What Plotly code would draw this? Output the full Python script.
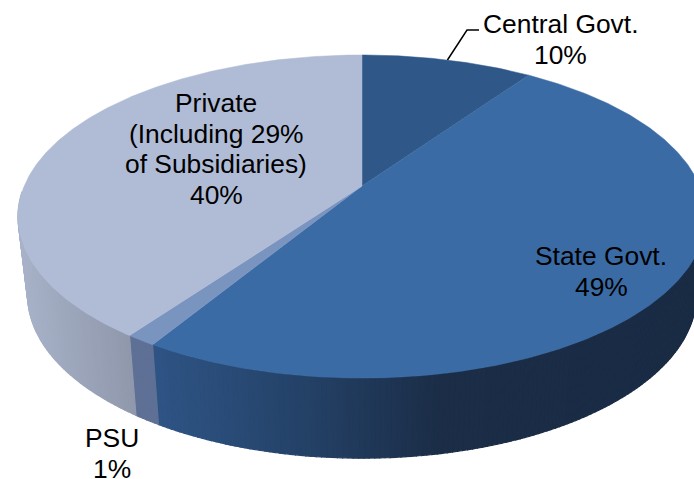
import numpy as np
import plotly.graph_objects as go

# Data
categories = ["Central Govt.", "State Govt.", "PSU", "Private"]
values = [9.65, 49.05, 1.2, 40.1]
label_lines = [["Central Govt.", "10%"], ["State Govt.", "49%"], ["PSU", "1%"],
               ["Private", "(Including 29%", "of Subsidiaries)", "40%"]]

# Style
top_colors = ["#2f5889", "#3b6ba5", "#7a94c0", "#b0bcd6"]
wall_stops = [
    [(0, "#1a2b44"), (694, "#1a2b44")],
    [(150, (47, 85, 134)), (300, (36, 66, 104)), (440, (27, 45, 71)), (694, (26, 43, 68))],
    [(0, (95, 112, 150)), (694, (95, 112, 150))],
    [(18, (168, 179, 201)), (136, (143, 151, 171))],
]
label_pos = [(560, 24), (601, 256), (112, 438), (216, 103)]
LINE_H = 30.7
FONT_PX = 26.4

# Projection of the pie's circular face onto the page
CX, CY, A, B, K = 362.0, 186.0, 337.8, 155.8, 0.189
LOWER_CX, LOWER_CY, LOWER_SX, LOWER_SY = 362.0, 264.3, 0.972, 1.009


def face(theta_deg, sx=1.0, sy=1.0, cx=CX, cy=CY):
    t = np.radians(np.asarray(theta_deg, dtype=float))
    u, v = np.sin(t), np.cos(t)
    w = 1 + K * v
    return cx + sx * A * u / w, cy - sy * B * v / w


def wall_color(i, x):
    stops = wall_stops[i]
    if isinstance(stops[0][1], str):
        return stops[0][1]
    xs = [s[0] for s in stops]
    rgb = [np.interp(x, xs, [s[1][c] for s in stops]) for c in range(3)]
    return "rgb(%d,%d,%d)" % tuple(int(round(c)) for c in rgb)


edges = np.concatenate([[0], np.cumsum(values)]) * 360.0 / sum(values)
fig = go.Figure()

# Side wall, drawn as narrow facets along the visible front rim
for i in range(len(values)):
    lo, hi = max(edges[i], 92), min(edges[i + 1], 268)
    if hi <= lo:
        continue
    steps = np.append(np.arange(lo, hi, 0.75), hi)
    for a, b in zip(steps[:-1], steps[1:]):
        tx, ty = face([a, b])
        bx, by = face([b, a], LOWER_SX, LOWER_SY, LOWER_CX, LOWER_CY)
        c = wall_color(i, float((tx.mean() + bx.mean()) / 2))
        fig.add_trace(go.Scatter(
            x=list(tx) + list(bx) + [tx[0]], y=list(ty) + list(by) + [ty[0]],
            mode="lines", fill="toself", fillcolor=c, line=dict(color=c, width=1.2),
            hoverinfo="skip", showlegend=False))

# Top face
for i, cat in enumerate(categories):
    th = np.linspace(edges[i], edges[i + 1], max(4, int(edges[i + 1] - edges[i]) * 2))
    x, y = face(th)
    fig.add_trace(go.Scatter(
        x=[CX] + list(x) + [CX], y=[CY] + list(y) + [CY],
        mode="lines", fill="toself", fillcolor=top_colors[i],
        line=dict(color=top_colors[i], width=0.5), name=cat,
        showlegend=False, hoverinfo="name"))

# Leader line for the first slice
mx, my = face((edges[0] + edges[1]) / 2)
fig.add_trace(go.Scatter(x=[float(mx), 467, 479], y=[float(my), 30, 30], mode="lines",
                         line=dict(color="#000000", width=1.5),
                         hoverinfo="skip", showlegend=False))

# Labels
for (lx, ly), lines in zip(label_pos, label_lines):
    for j, text in enumerate(lines):
        fig.add_annotation(x=lx, y=ly + j * LINE_H, text=text, showarrow=False,
                           xanchor="center", yanchor="middle",
                           font=dict(family="Liberation Sans, Arial, sans-serif",
                                     size=FONT_PX, color="#000000"))

fig.update_layout(
    width=694, height=479, margin=dict(l=0, r=0, t=0, b=0),
    paper_bgcolor="#ffffff", plot_bgcolor="#ffffff", showlegend=False,
    xaxis=dict(range=[0, 694], visible=False, fixedrange=True),
    yaxis=dict(range=[479, 0], visible=False, fixedrange=True),
)
fig.write_html("out.html", config={"displayModeBar": False},
               post_script="document.body.style.margin='0';document.body.style.overflow='hidden';")
